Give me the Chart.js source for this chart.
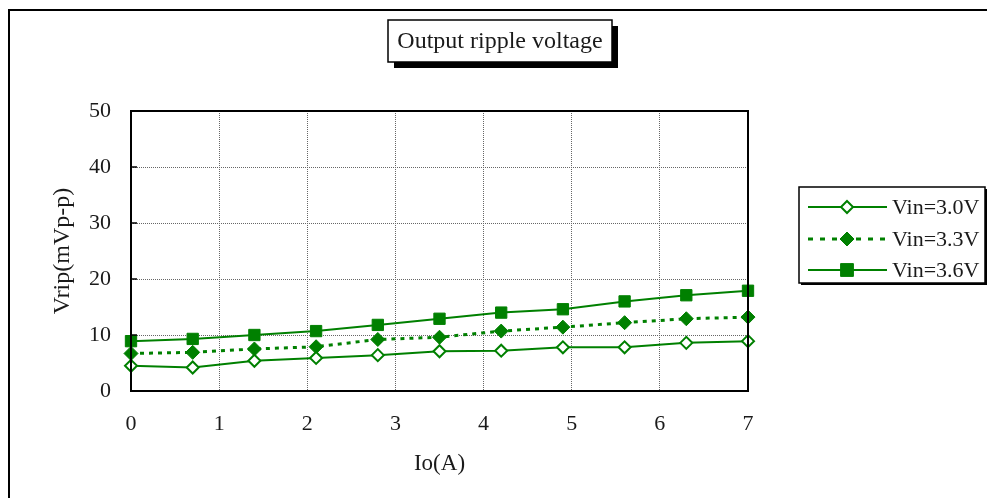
<!DOCTYPE html>
<html>
<head>
<meta charset="utf-8">
<script src="https://cdn.jsdelivr.net/npm/chart.js@4"></script>
<style>
  html, body { margin: 0; padding: 0; background: #fff; }
  #wrap { width: 987px; height: 498px; }
</style>
</head>
<body>
<div id="wrap"><canvas id="chart" width="987" height="498"></canvas></div>
<script>
const chartTitle = 'Output ripple voltage';
const xTitle = 'Io(A)';
const yTitle = 'Vrip(mVp-p)';

const ioAmps = [0, 0.7, 1.4, 2.1, 2.8, 3.5, 4.2, 4.9, 5.6, 6.3, 7];
const vin30 = [4.5, 4.2, 5.4, 5.9, 6.4, 7.1, 7.2, 7.8, 7.8, 8.6, 8.9];
const vin33 = [6.7, 6.9, 7.5, 7.9, 9.2, 9.6, 10.7, 11.4, 12.2, 12.9, 13.2];
const vin36 = [8.9, 9.3, 10.0, 10.7, 11.8, 12.9, 14.0, 14.6, 16.0, 17.1, 17.9];
const seriesLabels = ['Vin=3.0V', 'Vin=3.3V', 'Vin=3.6V'];

const green = '#008000';
const serif = '"Liberation Serif", "DejaVu Serif", serif';

function pts(ys) {
  return ys.map((y, i) => ({ x: ioAmps[i], y: y }));
}

function drawMarker(ctx, style, r, x, y) {
  if (style === 'rect') {
    const s = r * 0.8;
    ctx.rect(x - s, y - s, 2 * s, 2 * s);
  } else {
    ctx.moveTo(x, y - r);
    ctx.lineTo(x + r, y);
    ctx.lineTo(x, y + r);
    ctx.lineTo(x - r, y);
    ctx.closePath();
  }
}

// frame, title box, axis titles, inward ticks and legend
const decorations = {
  id: 'decorations',
  beforeDraw(chart) {
    const ctx = chart.ctx;
    ctx.save();
    ctx.fillStyle = '#fff';
    ctx.fillRect(0, 0, chart.width, chart.height);
    ctx.restore();
  },
  afterDatasetsDraw(chart) {
    const ctx = chart.ctx;
    const area = chart.chartArea;
    const ys = chart.scales.y;
    ctx.save();
    ctx.strokeStyle = '#000';
    ctx.lineWidth = 2;
    ctx.strokeRect(area.left, area.top, area.right - area.left, area.bottom - area.top);
    ctx.lineWidth = 1.5;
    ys.ticks.forEach(t => {
      const py = ys.getPixelForValue(t.value);
      ctx.beginPath();
      ctx.moveTo(area.left, py);
      ctx.lineTo(area.left + 6, py);
      ctx.stroke();
    });
    ctx.restore();
  },
  afterDraw(chart) {
    const ctx = chart.ctx;
    const area = chart.chartArea;
    const xs = chart.scales.x;
    ctx.save();

    // outer frame
    ctx.strokeStyle = '#000';
    ctx.lineWidth = 2;
    ctx.strokeRect(9, 10, 1100, 1100);

    // title box with shadow
    ctx.fillStyle = '#000';
    ctx.fillRect(394, 26, 224, 42);
    ctx.fillStyle = '#fff';
    ctx.fillRect(388, 20, 224, 42);
    ctx.lineWidth = 1.5;
    ctx.strokeRect(388, 20, 224, 42);
    ctx.fillStyle = '#1a1a1a';
    ctx.font = '24px ' + serif;
    ctx.textAlign = 'center';
    ctx.textBaseline = 'middle';
    ctx.fillText(chartTitle, 500, 42);

    // axis titles
    ctx.font = '23px ' + serif;
    ctx.fillText(xTitle, (xs.left + xs.right) / 2, 464);
    ctx.save();
    ctx.translate(63, (area.top + area.bottom) / 2);
    ctx.rotate(-Math.PI / 2);
    ctx.font = '24px ' + serif;
    ctx.fillText(yTitle, 0, 0);
    ctx.restore();

    // legend
    const lx = 799, ly = 187, lw = 186, lh = 96;
    ctx.fillStyle = '#000';
    ctx.fillRect(lx + 2, ly + 2, lw, lh);
    ctx.fillStyle = '#fff';
    ctx.fillRect(lx, ly, lw, lh);
    ctx.lineWidth = 1.5;
    ctx.strokeStyle = '#000';
    ctx.strokeRect(lx, ly, lw, lh);
    const rows = [207, 239, 270];
    chart.data.datasets.forEach((ds, i) => {
      const y = rows[i];
      ctx.strokeStyle = green;
      ctx.lineWidth = ds.borderWidth;
      ctx.setLineDash(ds.borderDash ? [5, 7] : []);
      ctx.beginPath();
      ctx.moveTo(808, y);
      ctx.lineTo(887, y);
      ctx.stroke();
      ctx.setLineDash([]);
      ctx.fillStyle = ds.pointBackgroundColor;
      ctx.lineWidth = ds.pointBorderWidth;
      ctx.beginPath();
      drawMarker(ctx, ds.pointStyle, ds.pointRadius, 847, y);
      ctx.fill();
      ctx.stroke();
      ctx.fillStyle = '#1a1a1a';
      ctx.font = '22px ' + serif;
      ctx.textAlign = 'left';
      ctx.textBaseline = 'middle';
      ctx.fillText(ds.label, 892, y + 1);
    });

    ctx.restore();
  }
};

new Chart(document.getElementById('chart'), {
  type: 'scatter',
  data: {
    datasets: [
      {
        label: seriesLabels[0],
        data: pts(vin30),
        showLine: true,
        clip: false,
        borderColor: green,
        borderWidth: 2,
        pointStyle: 'rectRot',
        pointRadius: 6,
        pointBorderWidth: 2,
        pointBackgroundColor: '#fff',
        pointBorderColor: green
      },
      {
        label: seriesLabels[1],
        data: pts(vin33),
        showLine: true,
        clip: false,
        borderColor: green,
        borderWidth: 3,
        borderDash: [4, 5],
        pointStyle: 'rectRot',
        pointRadius: 7,
        pointBorderWidth: 1,
        pointBackgroundColor: green,
        pointBorderColor: green
      },
      {
        label: seriesLabels[2],
        data: pts(vin36),
        showLine: true,
        clip: false,
        borderColor: green,
        borderWidth: 2,
        pointStyle: 'rect',
        pointRadius: 8,
        pointBorderWidth: 1,
        pointBackgroundColor: green,
        pointBorderColor: green
      }
    ]
  },
  options: {
    responsive: false,
    animation: false,
    events: [],
    layout: { padding: { top: 111, right: 239, left: 0, bottom: 0 } },
    plugins: {
      legend: { display: false },
      title: { display: false },
      tooltip: { enabled: false }
    },
    scales: {
      x: {
        type: 'linear',
        min: 0,
        max: 7,
        ticks: { stepSize: 1, color: '#1a1a1a', font: { family: serif, size: 22 }, padding: 20 },
        grid: { color: '#666', lineWidth: 1, drawTicks: false },
        border: { display: false, dash: [1, 1] },
        afterFit(s) { s.height = 107; }
      },
      y: {
        min: 0,
        max: 50,
        ticks: { stepSize: 10, color: '#1a1a1a', font: { family: serif, size: 22 }, padding: 20 },
        grid: { color: '#666', lineWidth: 1, drawTicks: false },
        border: { display: false, dash: [1, 1] },
        afterFit(s) { s.width = 131; }
      }
    }
  },
  plugins: [decorations]
});
</script>
</body>
</html>
